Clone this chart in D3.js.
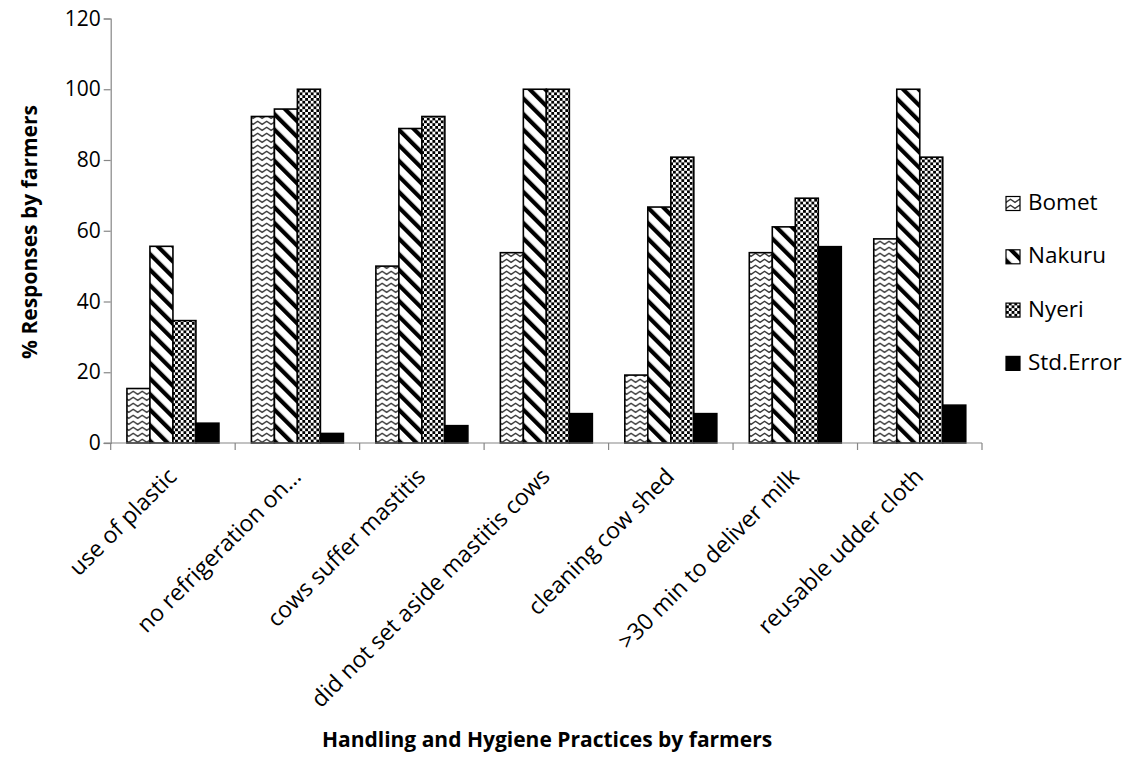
<!DOCTYPE html>
<html>
<head>
<meta charset="utf-8">
<script src="https://cdn.jsdelivr.net/npm/d3@7"></script>
<style>
  body { margin: 0; background: #fff; }
  svg { display: block; font-family: "Open Sans", sans-serif; }
</style>
</head>
<body>
<svg id="chart" width="1129" height="758"></svg>
<script>
const categories = ["use of plastic", "no refrigeration on\u2026", "cows suffer mastitis",
  "did not set aside mastitis cows", "cleaning cow shed", ">30 min to deliver milk", "reusable udder cloth"];
const seriesNames = ["Bomet", "Nakuru", "Nyeri", "Std.Error"];
const bomet   = [15.4, 92.3, 50.0, 53.8, 19.2, 53.8, 57.7];
const nakuru  = [55.6, 94.4, 88.9, 100, 66.7, 61.1, 100];
const nyeri   = [34.6, 100, 92.3, 100, 80.8, 69.2, 80.8];
const stdErr  = [5.6, 2.7, 4.9, 8.3, 8.3, 55.5, 10.7];
const yTicks  = [0, 20, 40, 60, 80, 100, 120];

const seriesValues = [bomet, nakuru, nyeri, stdErr];
const svg = d3.select("#chart");

// patterns
const defs = svg.append("defs");
const pB = defs.append("pattern").attr("id", "pat-Bomet").attr("patternUnits", "userSpaceOnUse")
  .attr("width", 9).attr("height", 6);
pB.append("rect").attr("width", 9).attr("height", 6).attr("fill", "#fff");
pB.append("path").attr("d", "M-0.5,4.8 L4.5,1.3 L9.5,4.8").attr("fill", "none")
  .attr("stroke", "#333").attr("stroke-width", 1.4);

const pN = defs.append("pattern").attr("id", "pat-Nakuru").attr("patternUnits", "userSpaceOnUse")
  .attr("width", 11).attr("height", 11).attr("patternTransform", "rotate(-45)");
pN.append("rect").attr("width", 11).attr("height", 11).attr("fill", "#fff");
pN.append("rect").attr("x", 0).attr("width", 4.2).attr("height", 11).attr("fill", "#000");

const pY = defs.append("pattern").attr("id", "pat-Nyeri").attr("patternUnits", "userSpaceOnUse")
  .attr("width", 5.6).attr("height", 5.6);
pY.append("rect").attr("width", 5.6).attr("height", 5.6).attr("fill", "#fff");
pY.append("rect").attr("x", 0).attr("y", 0).attr("width", 2.8).attr("height", 2.8).attr("fill", "#000");
pY.append("rect").attr("x", 2.8).attr("y", 2.8).attr("width", 2.8).attr("height", 2.8).attr("fill", "#000");

const fills = { "Bomet": "url(#pat-Bomet)", "Nakuru": "url(#pat-Nakuru)", "Nyeri": "url(#pat-Nyeri)", "Std.Error": "#000" };

const plotLeft = 110.7, plotRight = 982, yZero = 443, yTop = 18.5;
const x0 = d3.scaleBand().domain(categories).range([plotLeft, plotRight]).paddingInner(0).paddingOuter(0);
const groupW = 92;
const off = (x0.bandwidth() - groupW) / 2;
const x1 = d3.scaleBand().domain(seriesNames).range([off, off + groupW]).padding(0);
const y = d3.scaleLinear().domain([0, 120]).range([yZero, yTop]);

// bars
const groups = svg.append("g").selectAll("g").data(categories).join("g")
  .attr("transform", d => `translate(${x0(d)},0)`);
groups.selectAll("rect").data((d, i) => seriesNames.map((s, k) => ({ s, v: seriesValues[k][i] })))
  .join("rect")
  .attr("x", d => x1(d.s))
  .attr("y", d => y(d.v))
  .attr("width", x1.bandwidth())
  .attr("height", d => yZero - y(d.v))
  .attr("fill", d => fills[d.s])
  .attr("stroke", "#000")
  .attr("stroke-width", 1.6);

// y axis
const yAxis = d3.axisLeft(y).tickValues(yTicks).tickSize(7).tickPadding(3);
const gy = svg.append("g").attr("transform", `translate(${plotLeft},0)`).call(yAxis);
gy.select(".domain").attr("stroke", "#868686").attr("stroke-width", 1.2);
gy.selectAll(".tick line").attr("stroke", "#868686").attr("stroke-width", 1.2);
gy.selectAll(".tick text").attr("font-size", 21).attr("fill", "#000")
  .attr("font-family", "'Open Sans', sans-serif");

// x axis
const gx = svg.append("g").attr("transform", `translate(0,${yZero})`);
gx.append("line").attr("x1", plotLeft - 7).attr("x2", plotRight).attr("y1", 0).attr("y2", 0)
  .attr("stroke", "#868686").attr("stroke-width", 1.2);
const boundaries = categories.map(c => x0(c)).concat([plotRight]);
gx.selectAll("line.tk").data(boundaries).join("line").attr("class", "tk")
  .attr("x1", d => d).attr("x2", d => d).attr("y1", 0).attr("y2", 7)
  .attr("stroke", "#868686").attr("stroke-width", 1.2);
gx.selectAll("text.cat").data(categories).join("text").attr("class", "cat")
  .attr("transform", d => `translate(${x0(d) + x0.bandwidth() / 2 + 5},${35}) rotate(-45)`)
  .attr("text-anchor", "end")
  .attr("font-size", 23)
  .text(d => d);

// axis titles
svg.append("text").attr("x", 547).attr("y", 747).attr("text-anchor", "middle")
  .attr("font-weight", "bold").attr("font-size", 21).text("Handling and Hygiene Practices by farmers");
svg.append("text").attr("transform", "translate(37,232) rotate(-90)").attr("text-anchor", "middle")
  .attr("font-weight", "bold").attr("font-size", 21).text("% Responses by farmers");

// legend
const leg = svg.append("g").selectAll("g").data(seriesNames).join("g")
  .attr("transform", (d, i) => `translate(1006,${210 + i * 53.3})`);
leg.append("rect").attr("x", 0).attr("y", -13.5).attr("width", 14).attr("height", 14)
  .attr("fill", d => fills[d]).attr("stroke", "#000").attr("stroke-width", 1.2);
leg.append("text").attr("x", 22).attr("y", 0).attr("font-size", 22.5).text(d => d);
</script>
</body>
</html>
